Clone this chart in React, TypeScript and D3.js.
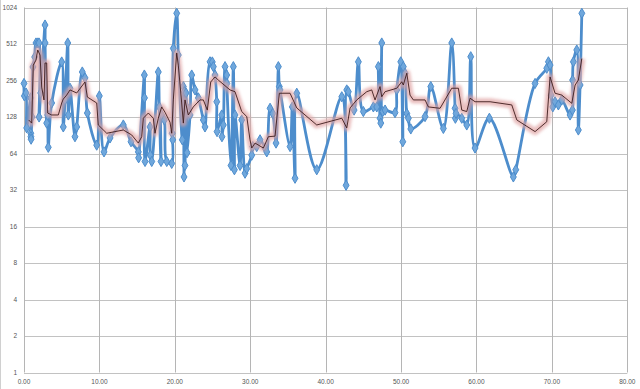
import * as d3 from "d3";

// blue series (x, value)
const blueX = [
  0.0, 0.05, 0.27, 0.36, 0.89, 0.9, 0.92, 0.94, 1.06, 1.19, 1.42, 1.59, 1.82, 1.99, 2.0, 2.21,
  2.79, 2.8, 3.01, 3.14, 3.22, 3.67, 5.0, 5.21, 5.44, 5.8, 5.88, 6.1, 6.76, 6.99, 7.73, 8.09,
  8.4, 9.64, 9.99, 10.61, 11.41, 13.17, 14.19, 15.16, 15.2, 15.96, 15.98, 16.05, 16.71, 16.75,
  16.94, 17.81, 17.94, 18.17, 18.26, 18.61, 18.93, 19.59, 19.65, 19.72, 19.8, 20.25, 20.46,
  20.99, 21.13, 21.22, 21.26, 21.35, 21.49, 21.58, 21.62, 22.02, 22.24, 22.68, 23.12, 23.78,
  24.0, 24.67, 24.97, 25.11, 25.33, 25.56, 25.6, 26.22, 26.25, 26.43, 26.66, 26.88, 26.9,
  27.45, 27.76, 27.9, 27.98, 28.65, 28.87, 29.31, 29.54, 30.2, 30.33, 30.86, 31.3, 31.96,
  32.19, 32.63, 32.98, 33.42, 33.73, 33.86, 33.95, 35.28, 35.58, 35.94, 36.17, 38.82, 42.14,
  42.71, 42.8, 43.01, 43.77, 44.34, 45.0, 46.33, 46.78, 46.99, 47.21, 47.31, 47.44, 47.57,
  47.88, 49.2, 49.43, 49.96, 50.23, 50.3, 50.53, 50.76, 50.97, 51.29, 53.18, 53.94, 55.61,
  56.72, 57.16, 57.2, 57.29, 58.05, 58.71, 59.24, 59.81, 61.71, 64.89, 65.21, 67.77, 69.32,
  69.54, 69.76, 69.89, 70.12, 70.42, 70.86, 71.31, 72.41, 72.72, 72.75, 72.85, 73.3, 73.51,
  73.74, 73.97,
];
const blueY = [
  242, 191, 202, 104, 184, 94, 88, 84, 128, 331, 400, 522, 522, 522, 128, 202,
  734, 522, 114, 133, 72, 167, 364, 106, 177, 522, 133, 221, 88, 106, 301, 269,
  138, 75, 191, 66, 86, 110, 80, 66, 59, 284, 184, 55, 106, 62,
  55, 301, 155, 55, 133, 121, 55, 53, 94, 83, 471, 917, 415,
  83, 228, 41, 207, 51, 202, 155, 65, 133, 284, 214, 184, 121,
  106, 365, 364, 333, 284, 171, 97, 133, 88, 110, 333, 284, 242,
  51, 333, 47, 133, 51, 121, 44, 48, 62, 73, 73, 83, 71,
  66, 151, 137, 78, 333, 228, 214, 73, 155, 40, 201, 47, 188,
  35, 214, 207, 146, 365, 142, 155, 155, 333, 125, 114, 522, 142,
  146, 139, 214, 365, 80, 333, 294, 137, 125, 102, 129, 228, 103,
  522, 151, 125, 137, 125, 110, 402, 71, 125, 41, 47, 242, 323,
  365, 343, 194, 155, 171, 161, 177, 133, 146, 258, 365, 457, 100,
  235, 917,
];

// moving average line
const avgX = [
  0.62, 1.02, 1.23, 1.59, 1.82, 2.12, 2.35, 2.65, 2.79, 3.01, 3.14, 3.67, 4.55, 5.0, 5.21,
  5.66, 6.1, 6.99, 8.09, 8.4, 9.64, 9.85, 10.97, 13.17, 14.28, 15.16, 15.61, 15.82, 16.49,
  17.15, 17.37, 17.81, 18.26, 18.7, 19.36, 19.59, 19.8, 20.25, 20.46, 20.91, 21.13, 21.35,
  21.79, 22.45, 23.34, 23.78, 24.31, 24.76, 25.33, 25.77, 27.32, 27.98, 28.87, 29.54, 29.97,
  30.2, 30.64, 31.74, 32.4, 33.29, 33.86, 35.28, 36.17, 38.82, 42.14, 42.8, 43.24, 44.13,
  45.45, 46.11, 46.55, 47.21, 47.44, 47.88, 49.43, 50.09, 50.3, 50.76, 51.19, 51.63, 53.18,
  53.62, 55.17, 56.72, 57.6, 58.05, 58.71, 59.15, 59.81, 61.8, 64.68, 65.35, 67.77, 69.32,
  69.76, 70.42, 71.31, 72.64, 73.08, 73.51, 73.97,
];
const avgY = [
  121, 114, 343, 377, 457, 415, 226, 177, 357, 357, 138, 133, 133, 167, 180,
  194, 214, 202, 249, 187, 167, 110, 94, 100, 91, 78, 88, 125, 138,
  125, 94, 125, 155, 140, 116, 94, 177, 431, 343, 167, 114, 177,
  133, 155, 177, 177, 146, 249, 274, 258, 214, 207, 142, 129, 83,
  71, 78, 71, 88, 89, 201, 201, 152, 110, 125, 104, 152, 177,
  207, 214, 177, 228, 188, 207, 221, 250, 235, 294, 194, 177, 177,
  155, 151, 221, 221, 146, 142, 183, 171, 171, 161, 121, 97, 117,
  274, 201, 194, 166, 235, 258, 388,
];

const yTicks = [1, 2, 4, 8, 16, 32, 64, 128, 256, 512, 1024];
const xTicks = [0, 10, 20, 30, 40, 50, 60, 70, 80];

const W = 640;
const H = 389;

export default function App() {
  const x = d3.scaleLinear().domain([0, 80]).range([24, 627.3]);
  const y = d3.scaleLog().base(2).domain([1, 1024]).range([372.5, 7.5]);

  const blue = blueX.map((v, i) => [v, blueY[i]] as [number, number]);
  const avg = avgX.map((v, i) => [v, avgY[i]] as [number, number]);

  const blueLine = d3
    .line<[number, number]>()
    .x((d) => x(d[0]))
    .y((d) => y(d[1]))
    .curve(d3.curveCatmullRom.alpha(0.5));
  const avgLine = d3
    .line<[number, number]>()
    .x((d) => x(d[0]))
    .y((d) => y(d[1]));
  const diamond = d3.symbol().type(d3.symbolDiamond).size(30)();

  const font = "'Liberation Sans', Arial, sans-serif";

  return (
    <svg
      width={W}
      height={H}
      style={{ position: "absolute", left: 0, top: 0, background: "#fff" }}
    >
      <defs>
        <filter id="glow" x="-5%" y="-20%" width="110%" height="140%">
          <feGaussianBlur stdDeviation="1.6" />
        </filter>
      </defs>
      <line x1={0.5} x2={0.5} y1={0} y2={H} stroke="#d0d0d0" />
      {/* grid */}
      {yTicks.map((t) => (
        <line
          key={"h" + t}
          x1={x(0)}
          x2={x(80)}
          y1={Math.round(y(t)) + 0.5}
          y2={Math.round(y(t)) + 0.5}
          stroke="#c2c2c2"
        />
      ))}
      {xTicks.map((t) => (
        <line
          key={"v" + t}
          x1={Math.round(x(t)) + 0.5}
          x2={Math.round(x(t)) + 0.5}
          y1={y(1024)}
          y2={y(1)}
          stroke="#b5b5b5"
        />
      ))}
      {yTicks.map((t) => (
        <text
          key={"yl" + t}
          x={17}
          y={y(t) + 2.3}
          textAnchor="end"
          fontFamily={font}
          fontSize={6.5}
          fill="#555"
        >
          {t}
        </text>
      ))}
      {xTicks.map((t) => (
        <text
          key={"xl" + t}
          x={x(t)}
          y={383.5}
          textAnchor="middle"
          fontFamily={font}
          fontSize={6.5}
          fill="#555"
        >
          {t.toFixed(2)}
        </text>
      ))}
      {/* blue series */}
      <path
        d={blueLine(blue) ?? ""}
        fill="none"
        stroke="#4d8dcc"
        strokeWidth={2.8}
        strokeLinejoin="round"
      />
      {blue.map((d, i) => (
        <path
          key={"m" + i}
          d={diamond ?? ""}
          transform={`translate(${x(d[0])},${y(d[1])})`}
          fill="#6fa7dc"
          stroke="#4d8dcc"
          strokeWidth={1}
        />
      ))}
      {/* moving average with glow */}
      <path
        d={avgLine(avg) ?? ""}
        fill="none"
        stroke="#e0a2a2"
        strokeWidth={7}
        strokeOpacity={0.7}
        strokeLinejoin="round"
        filter="url(#glow)"
      />
      <path
        d={avgLine(avg) ?? ""}
        fill="none"
        stroke="#3d1c1c"
        strokeWidth={0.9}
        strokeLinejoin="round"
      />
    </svg>
  );
}
